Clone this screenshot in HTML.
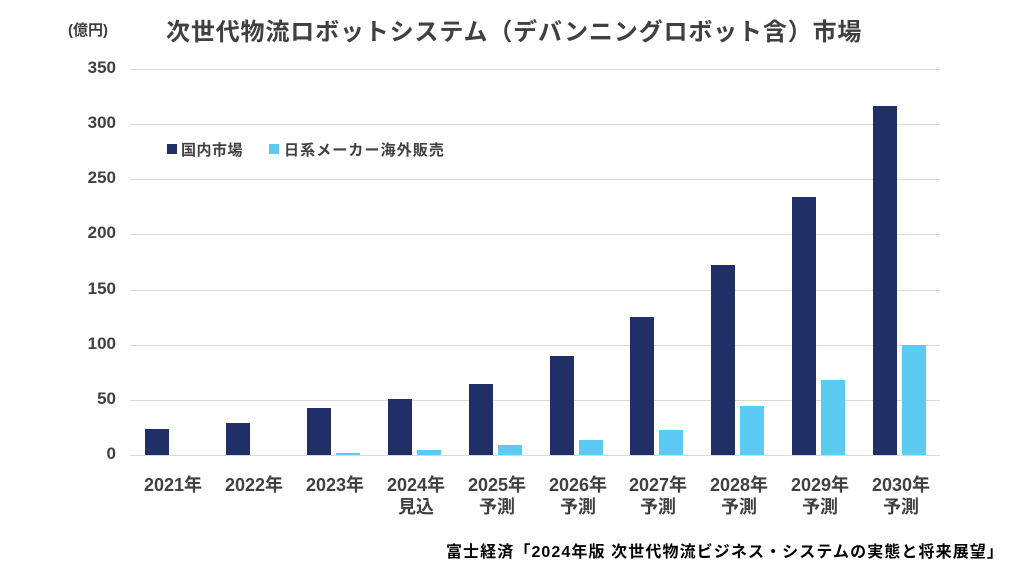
<!DOCTYPE html>
<html><head><meta charset="utf-8"><style>
body{margin:0;width:1024px;height:576px;background:#fff;position:relative;overflow:hidden;font-family:"Liberation Sans","Noto Sans CJK JP",sans-serif;color:#404040;font-weight:bold}
div{position:absolute;white-space:nowrap}
.g{left:130px;width:810px;height:1px;background:#d9d9d9}
.y{left:50px;width:66px;text-align:right;font-size:17px}
.d{background:#203066;width:24px}
.l{background:#5ccbf3;width:24px}
.x{width:90px;text-align:center;font-size:18px;line-height:22px;top:474px}
</style></head><body>
<div style="left:68px;top:19px;font-size:15px">(億円)</div>
<div style="left:166px;top:12px;font-size:24px;letter-spacing:0.85px">次世代物流ロボットシステム（デバンニングロボット含）市場</div>
<div class="g" style="top:69px"></div><div class="y" style="top:58px">350</div>
<div class="g" style="top:124px"></div><div class="y" style="top:113px">300</div>
<div class="g" style="top:179px"></div><div class="y" style="top:168px">250</div>
<div class="g" style="top:234px"></div><div class="y" style="top:223px">200</div>
<div class="g" style="top:290px"></div><div class="y" style="top:279px">150</div>
<div class="g" style="top:345px"></div><div class="y" style="top:334px">100</div>
<div class="g" style="top:400px"></div><div class="y" style="top:389px">50</div>
<div class="g" style="top:455px"></div><div class="y" style="top:444px">0</div>
<div style="left:167px;top:144px;width:10px;height:10px;background:#203066"></div>
<div style="left:181px;top:139px;font-size:15px;letter-spacing:0.5px">国内市場</div>
<div style="left:269px;top:144px;width:10px;height:10px;background:#5ccbf3"></div>
<div style="left:284px;top:139px;font-size:15px;letter-spacing:1.1px">日系メーカー海外販売</div>
<div class="d" style="left:145px;top:429px;height:26px"></div>
<div class="d" style="left:226px;top:423px;height:32px"></div>
<div class="d" style="left:307px;top:408px;height:47px"></div>
<div class="d" style="left:388px;top:399px;height:56px"></div>
<div class="d" style="left:469px;top:384px;height:71px"></div>
<div class="d" style="left:550px;top:356px;height:99px"></div>
<div class="d" style="left:630px;top:317px;height:138px"></div>
<div class="d" style="left:711px;top:265px;height:190px"></div>
<div class="d" style="left:792px;top:197px;height:258px"></div>
<div class="d" style="left:873px;top:106px;height:349px"></div>
<div class="l" style="left:336px;top:453px;height:2px"></div>
<div class="l" style="left:417px;top:450px;height:5px"></div>
<div class="l" style="left:498px;top:445px;height:10px"></div>
<div class="l" style="left:579px;top:440px;height:15px"></div>
<div class="l" style="left:659px;top:430px;height:25px"></div>
<div class="l" style="left:740px;top:406px;height:49px"></div>
<div class="l" style="left:821px;top:380px;height:75px"></div>
<div class="l" style="left:902px;top:345px;height:110px"></div>
<div class="x" style="left:128px">2021年</div>
<div class="x" style="left:209px">2022年</div>
<div class="x" style="left:290px">2023年</div>
<div class="x" style="left:371px">2024年<br>見込</div>
<div class="x" style="left:452px">2025年<br>予測</div>
<div class="x" style="left:533px">2026年<br>予測</div>
<div class="x" style="left:613px">2027年<br>予測</div>
<div class="x" style="left:694px">2028年<br>予測</div>
<div class="x" style="left:775px">2029年<br>予測</div>
<div class="x" style="left:856px">2030年<br>予測</div>
<div style="right:20px;top:538px;font-size:16px;color:#000;letter-spacing:1.1px">富士経済「2024年版 次世代物流ビジネス・システムの実態と将来展望」</div>
</body></html>
